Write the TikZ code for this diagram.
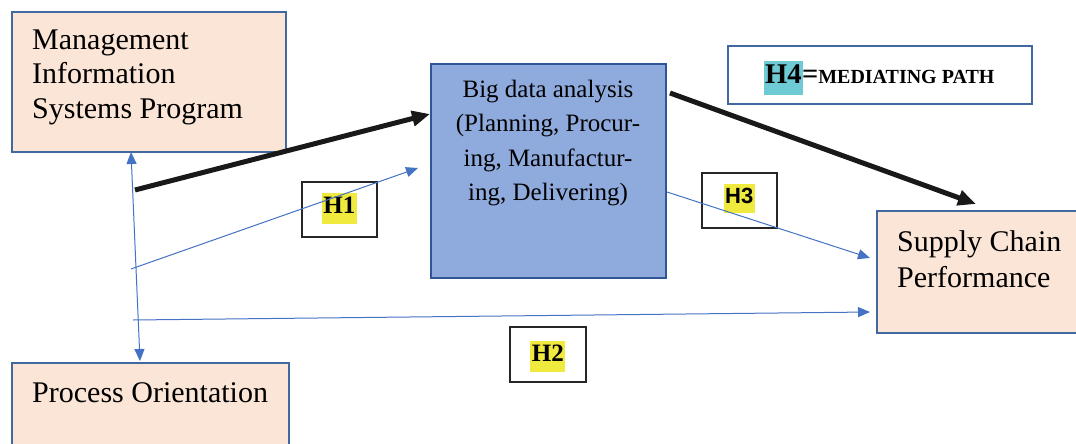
\documentclass[tikz,border=0pt]{standalone}
\usepackage{fontspec}
\setmainfont{Liberation Serif}
\newfontfamily\timesf{Liberation Serif}
\newfontfamily\arialf{Liberation Sans}
\usetikzlibrary{arrows.meta}
\definecolor{peach}{HTML}{FBE5D6}
\definecolor{boxblue}{HTML}{41689F}
\definecolor{bdfill}{HTML}{8FAADC}
\definecolor{bdborder}{HTML}{2F5597}
\definecolor{lineblue}{HTML}{4472C4}
\definecolor{hlyellow}{HTML}{F0E93E}
\definecolor{hlcyan}{HTML}{6ECBD5}
\newcommand{\hlmark}[2]{{\setlength{\fboxsep}{1.5pt}\colorbox{#1}{\strut #2}}}
\tikzset{
  peachbox/.style={draw=boxblue, line width=2pt, fill=peach, anchor=north west, inner sep=0pt},
  bdbox/.style={draw=bdborder, line width=1.6pt, fill=bdfill, anchor=north west, inner sep=0pt},
  legendbox/.style={draw=boxblue, line width=2pt, fill=white, anchor=north west, inner sep=0pt},
  hbox/.style={draw=black!85, line width=1.6pt, fill=white, anchor=north west, inner sep=0pt},
  bigtext/.style={font=\timesf\fontsize{30}{34}\selectfont, align=left, inner sep=0pt, anchor=base west},
  bdtextstyle/.style={font=\timesf\fontsize{25}{34}\selectfont, inner sep=0pt, anchor=base},
  thickarrow/.style={line width=5pt, black!90, -{Triangle[length=18pt,width=15pt]}},
  thinarrow/.style={line width=1pt, lineblue, -{Triangle[length=12pt,width=10pt]}},
}
\begin{document}
\begin{tikzpicture}[x=1pt,y=-1pt]
\useasboundingbox (0,0) rectangle (1076,444);
\clip (0,0) rectangle (1076,444);

% boxes
\node[peachbox, minimum width=274pt, minimum height=140pt] (mis) at (11,11) {};
\node[peachbox, minimum width=277pt, minimum height=110pt] (po) at (11,362) {};
\node[bdbox, minimum width=235pt, minimum height=214pt] (bd) at (430,63) {};
\node[peachbox, minimum width=220pt, minimum height=122pt] (sc) at (876,210) {};
\node[legendbox, minimum width=304pt, minimum height=58pt] (h4) at (727,45) {};

% texts
\node[bigtext] (mistext) at (32,50) {Management};
\node[bigtext] (mistext2) at (32,84) {Information};
\node[bigtext] (mistext3) at (32,118) {Systems Program};
\node[bigtext] (potext) at (32,402) {Process Orientation};
\node[bigtext] (sctext) at (897,251) {Supply Chain};
\node[bigtext] (sctext2) at (897,287) {Performance};
\node[bdtextstyle] (bdtext) at (548,97.5) {Big data analysis};
\node[bdtextstyle] (bdtext2) at (548,131.5) {(Planning, Procur-};
\node[bdtextstyle] (bdtext3) at (548,166) {ing, Manufactur-};
\node[bdtextstyle] (bdtext4) at (548,200) {ing, Delivering)};
\node[inner sep=0pt, anchor=base] (h4text) at (879,84) {\timesf\fontsize{28.5}{30}\selectfont\bfseries\hlmark{hlcyan}{H4}\kern-1pt=\fontsize{20}{20}\selectfont MEDIATING PATH};

% hypothesis boxes
\node[hbox, minimum width=75pt, minimum height=55pt] (h1) at (301,181) {};
\node[font=\timesf\fontsize{25}{28}\selectfont\bfseries, inner sep=0pt] (h1t) at ([yshift=1pt]h1.center) {\hlmark{hlyellow}{H1}};
\node[hbox, minimum width=75pt, minimum height=55pt] (h3) at (701,172) {};
\node[font=\arialf\fontsize{22}{26}\selectfont\bfseries, inner sep=0pt] (h3t) at ([yshift=2pt]h3.center) {\hlmark{hlyellow}{H3}};
\node[hbox, minimum width=76pt, minimum height=55pt] (h2) at (509,326) {};
\node[font=\timesf\fontsize{25}{28}\selectfont\bfseries, inner sep=0pt] (h2t) at ([yshift=-2pt]h2.center) {\hlmark{hlyellow}{H2}};

% connector endpoints
\coordinate (a1s) at (135,190);
\coordinate (a1e) at (bd.west |- 0,114);
\coordinate (a2s) at (670,93);
\coordinate (a2e) at (976,204);
\coordinate (b1s) at (131,269);
\coordinate (b1e) at (418,168);
\coordinate (b3s) at (667,192);
\coordinate (b3e) at (870,258);
\coordinate (b2s) at (133,320);
\coordinate (b2e) at (870,312);
\coordinate (vtop) at (131,152);
\coordinate (vbot) at (140,361);

% connectors
\draw[thickarrow] (a1s) -- (a1e);
\draw[thickarrow] (a2s) -- (a2e);
\draw[thinarrow] (b1s) -- (b1e);
\draw[thinarrow] (b3s) -- (b3e);
\draw[thinarrow] (b2s) -- (b2e);
\draw[line width=1pt, lineblue, {Triangle[length=12pt,width=10pt]}-{Triangle[length=12pt,width=10pt]}] (vtop) -- (vbot);
\end{tikzpicture}
\end{document}
